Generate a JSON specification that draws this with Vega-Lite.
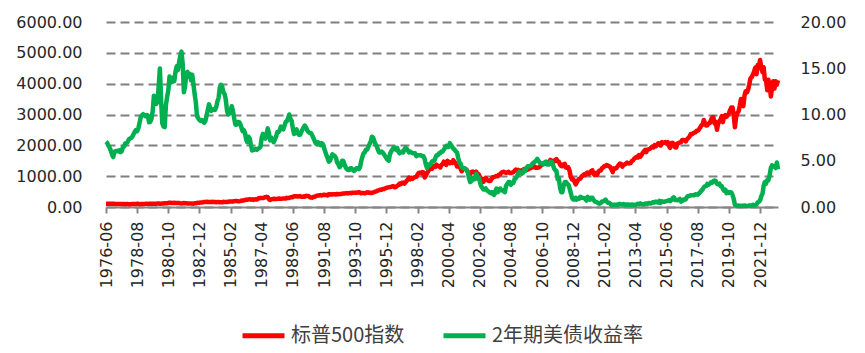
{
"$schema":"https://vega.github.io/schema/vega-lite/v6.json",
"width":672,"height":185,
"autosize":{"type":"none"},
"padding":{"left":106,"top":22,"right":87,"bottom":146},
"background":"white",
"config":{"view":{"stroke":null},"font":"DejaVu Sans"},
"data":{"values":[
{"d":"1976-06","s":104.28,"y":7.06},{"d":"1976-07","s":103.44,"y":6.94},{"d":"1976-08","s":102.91,"y":6.63},{"d":"1976-09","s":105.24,"y":6.42},{"d":"1976-10","s":102.9,"y":6.1},{"d":"1976-11","s":102.1,"y":5.65},{"d":"1976-12","s":107.46,"y":5.4},
{"d":"1977-01","s":102.03,"y":5.96},{"d":"1977-02","s":99.82,"y":6.06},{"d":"1977-03","s":98.42,"y":6.06},{"d":"1977-04","s":98.44,"y":6.03},{"d":"1977-05","s":96.12,"y":6.12},{"d":"1977-06","s":100.48,"y":5.93},{"d":"1977-07","s":98.85,"y":6.0},{"d":"1977-08","s":96.77,"y":6.41},{"d":"1977-09","s":96.53,"y":6.53},{"d":"1977-10","s":92.34,"y":6.87},{"d":"1977-11","s":94.83,"y":6.9},{"d":"1977-12","s":95.1,"y":7.02},
{"d":"1978-01","s":89.25,"y":7.31},{"d":"1978-02","s":87.04,"y":7.4},{"d":"1978-03","s":89.21,"y":7.46},{"d":"1978-04","s":96.83,"y":7.6},{"d":"1978-05","s":97.24,"y":7.86},{"d":"1978-06","s":95.53,"y":8.12},{"d":"1978-07","s":100.68,"y":8.32},{"d":"1978-08","s":103.29,"y":8.19},{"d":"1978-09","s":102.54,"y":8.51},{"d":"1978-10","s":93.15,"y":9.08},{"d":"1978-11","s":94.7,"y":9.73},{"d":"1978-12","s":96.11,"y":9.91},
{"d":"1979-01","s":99.93,"y":10.03},{"d":"1979-02","s":96.28,"y":9.88},{"d":"1979-03","s":101.59,"y":9.82},{"d":"1979-04","s":101.76,"y":9.95},{"d":"1979-05","s":99.08,"y":9.87},{"d":"1979-06","s":102.91,"y":9.16},{"d":"1979-07","s":103.81,"y":9.21},{"d":"1979-08","s":109.32,"y":9.55},{"d":"1979-09","s":109.32,"y":10.37},{"d":"1979-10","s":101.82,"y":12.03},{"d":"1979-11","s":106.16,"y":11.85},{"d":"1979-12","s":107.94,"y":11.14},
{"d":"1980-01","s":114.16,"y":11.38},{"d":"1980-02","s":113.66,"y":13.18},{"d":"1980-03","s":102.09,"y":14.98},{"d":"1980-04","s":106.29,"y":11.56},{"d":"1980-05","s":111.24,"y":9.05},{"d":"1980-06","s":114.24,"y":8.71},{"d":"1980-07","s":121.67,"y":8.64},{"d":"1980-08","s":122.38,"y":11.0},{"d":"1980-09","s":125.46,"y":11.9},{"d":"1980-10","s":127.47,"y":12.6},{"d":"1980-11","s":140.52,"y":14.1},{"d":"1980-12","s":135.76,"y":13.9},
{"d":"1981-01","s":129.55,"y":13.5},{"d":"1981-02","s":131.27,"y":14.0},{"d":"1981-03","s":136.0,"y":13.6},{"d":"1981-04","s":132.81,"y":14.6},{"d":"1981-05","s":132.59,"y":15.2},{"d":"1981-06","s":131.21,"y":14.8},{"d":"1981-07","s":130.92,"y":15.6},{"d":"1981-08","s":122.79,"y":16.3},{"d":"1981-09","s":116.18,"y":16.8},{"d":"1981-10","s":121.89,"y":15.5},{"d":"1981-11","s":126.35,"y":12.4},{"d":"1981-12","s":122.55,"y":13.0},
{"d":"1982-01","s":120.4,"y":14.5},{"d":"1982-02","s":113.11,"y":14.6},{"d":"1982-03","s":111.96,"y":14.1},{"d":"1982-04","s":116.44,"y":14.4},{"d":"1982-05","s":111.88,"y":13.7},{"d":"1982-06","s":109.61,"y":14.3},{"d":"1982-07","s":107.09,"y":13.3},{"d":"1982-08","s":119.51,"y":12.2},{"d":"1982-09","s":120.42,"y":11.3},{"d":"1982-10","s":133.71,"y":9.8},{"d":"1982-11","s":138.54,"y":9.6},{"d":"1982-12","s":140.64,"y":9.4},
{"d":"1983-01","s":145.3,"y":9.3},{"d":"1983-02","s":148.06,"y":9.4},{"d":"1983-03","s":152.96,"y":9.3},{"d":"1983-04","s":164.42,"y":9.1},{"d":"1983-05","s":162.39,"y":9.3},{"d":"1983-06","s":168.11,"y":9.9},{"d":"1983-07","s":162.56,"y":10.5},{"d":"1983-08","s":164.4,"y":11.1},{"d":"1983-09","s":166.07,"y":10.7},{"d":"1983-10","s":163.55,"y":10.4},{"d":"1983-11","s":166.4,"y":10.5},{"d":"1983-12","s":164.93,"y":10.6},
{"d":"1984-01","s":163.41,"y":10.5},{"d":"1984-02","s":157.06,"y":10.8},{"d":"1984-03","s":159.18,"y":11.4},{"d":"1984-04","s":160.05,"y":11.8},{"d":"1984-05","s":150.55,"y":12.9},{"d":"1984-06","s":153.18,"y":13.2},{"d":"1984-07","s":150.66,"y":13.0},{"d":"1984-08","s":166.68,"y":12.4},{"d":"1984-09","s":166.1,"y":12.2},{"d":"1984-10","s":166.09,"y":11.6},{"d":"1984-11","s":163.58,"y":10.4},{"d":"1984-12","s":167.24,"y":10.0},
{"d":"1985-01","s":179.63,"y":10.1},{"d":"1985-02","s":181.18,"y":10.4},{"d":"1985-03","s":180.66,"y":10.9},{"d":"1985-04","s":179.83,"y":10.4},{"d":"1985-05","s":189.55,"y":9.6},{"d":"1985-06","s":191.85,"y":8.9},{"d":"1985-07","s":190.92,"y":8.9},{"d":"1985-08","s":188.63,"y":9.2},{"d":"1985-09","s":182.08,"y":9.2},{"d":"1985-10","s":189.82,"y":9.0},{"d":"1985-11","s":202.17,"y":8.6},{"d":"1985-12","s":211.28,"y":8.2},
{"d":"1986-01","s":211.78,"y":8.3},{"d":"1986-02","s":226.92,"y":8.0},{"d":"1986-03","s":238.9,"y":7.3},{"d":"1986-04","s":235.52,"y":7.0},{"d":"1986-05","s":247.35,"y":7.6},{"d":"1986-06","s":250.84,"y":7.4},{"d":"1986-07","s":236.12,"y":6.7},{"d":"1986-08","s":252.93,"y":6.1},{"d":"1986-09","s":231.32,"y":6.2},{"d":"1986-10","s":243.98,"y":6.2},{"d":"1986-11","s":249.22,"y":6.3},{"d":"1986-12","s":242.17,"y":6.2},
{"d":"1987-01","s":274.08,"y":6.3},{"d":"1987-02","s":284.2,"y":6.4},{"d":"1987-03","s":291.7,"y":6.5},{"d":"1987-04","s":288.36,"y":7.5},{"d":"1987-05","s":290.1,"y":7.9},{"d":"1987-06","s":304.0,"y":7.5},{"d":"1987-07","s":318.66,"y":7.4},{"d":"1987-08","s":329.8,"y":7.8},{"d":"1987-09","s":321.83,"y":8.5},{"d":"1987-10","s":251.79,"y":8.0},{"d":"1987-11","s":230.3,"y":7.2},{"d":"1987-12","s":247.08,"y":7.5},
{"d":"1988-01","s":257.07,"y":7.3},{"d":"1988-02","s":267.82,"y":7.0},{"d":"1988-03","s":258.89,"y":7.3},{"d":"1988-04","s":261.33,"y":7.6},{"d":"1988-05","s":262.16,"y":8.1},{"d":"1988-06","s":273.5,"y":8.1},{"d":"1988-07","s":272.02,"y":8.3},{"d":"1988-08","s":261.52,"y":8.7},{"d":"1988-09","s":271.91,"y":8.5},{"d":"1988-10","s":278.97,"y":8.4},{"d":"1988-11","s":273.7,"y":8.8},{"d":"1988-12","s":277.72,"y":9.2},
{"d":"1989-01","s":297.47,"y":9.3},{"d":"1989-02","s":288.86,"y":9.6},{"d":"1989-03","s":294.87,"y":10.0},{"d":"1989-04","s":309.64,"y":9.5},{"d":"1989-05","s":320.52,"y":9.3},{"d":"1989-06","s":317.98,"y":8.5},{"d":"1989-07","s":346.08,"y":7.9},{"d":"1989-08","s":351.45,"y":8.3},{"d":"1989-09","s":349.15,"y":8.4},{"d":"1989-10","s":340.36,"y":8.0},{"d":"1989-11","s":345.99,"y":7.8},{"d":"1989-12","s":353.4,"y":7.8},
{"d":"1990-01","s":329.08,"y":8.1},{"d":"1990-02","s":331.89,"y":8.4},{"d":"1990-03","s":339.94,"y":8.6},{"d":"1990-04","s":330.8,"y":8.8},{"d":"1990-05","s":361.23,"y":8.6},{"d":"1990-06","s":358.02,"y":8.3},{"d":"1990-07","s":356.15,"y":8.1},{"d":"1990-08","s":322.56,"y":8.0},{"d":"1990-09","s":306.05,"y":8.0},{"d":"1990-10","s":304.0,"y":7.8},{"d":"1990-11","s":322.22,"y":7.5},{"d":"1990-12","s":330.22,"y":7.2},
{"d":"1991-01","s":343.93,"y":6.9},{"d":"1991-02","s":367.07,"y":6.8},{"d":"1991-03","s":375.22,"y":7.0},{"d":"1991-04","s":375.35,"y":6.8},{"d":"1991-05","s":389.83,"y":6.7},{"d":"1991-06","s":371.16,"y":6.9},{"d":"1991-07","s":387.81,"y":6.8},{"d":"1991-08","s":395.43,"y":6.4},{"d":"1991-09","s":387.86,"y":6.0},{"d":"1991-10","s":392.45,"y":5.6},{"d":"1991-11","s":375.22,"y":5.3},{"d":"1991-12","s":417.09,"y":4.9},
{"d":"1992-01","s":408.79,"y":5.0},{"d":"1992-02","s":412.7,"y":5.4},{"d":"1992-03","s":403.69,"y":5.7},{"d":"1992-04","s":414.95,"y":5.6},{"d":"1992-05","s":415.35,"y":5.5},{"d":"1992-06","s":408.14,"y":5.3},{"d":"1992-07","s":424.21,"y":4.8},{"d":"1992-08","s":414.03,"y":4.6},{"d":"1992-09","s":417.8,"y":4.3},{"d":"1992-10","s":418.68,"y":4.5},{"d":"1992-11","s":431.35,"y":5.0},{"d":"1992-12","s":435.71,"y":5.0},
{"d":"1993-01","s":438.78,"y":4.6},{"d":"1993-02","s":443.38,"y":4.3},{"d":"1993-03","s":451.67,"y":4.1},{"d":"1993-04","s":440.19,"y":4.0},{"d":"1993-05","s":450.19,"y":4.0},{"d":"1993-06","s":450.53,"y":4.2},{"d":"1993-07","s":448.13,"y":4.2},{"d":"1993-08","s":463.56,"y":4.0},{"d":"1993-09","s":458.93,"y":3.9},{"d":"1993-10","s":467.83,"y":4.0},{"d":"1993-11","s":461.79,"y":4.2},{"d":"1993-12","s":466.45,"y":4.2},
{"d":"1994-01","s":481.61,"y":4.1},{"d":"1994-02","s":467.14,"y":4.3},{"d":"1994-03","s":445.77,"y":4.9},{"d":"1994-04","s":450.91,"y":5.4},{"d":"1994-05","s":456.5,"y":5.8},{"d":"1994-06","s":444.27,"y":5.9},{"d":"1994-07","s":458.26,"y":6.2},{"d":"1994-08","s":475.49,"y":6.2},{"d":"1994-09","s":462.69,"y":6.5},{"d":"1994-10","s":472.35,"y":6.8},{"d":"1994-11","s":453.69,"y":7.1},{"d":"1994-12","s":459.27,"y":7.6},
{"d":"1995-01","s":470.42,"y":7.5},{"d":"1995-02","s":487.39,"y":7.1},{"d":"1995-03","s":500.71,"y":6.8},{"d":"1995-04","s":514.71,"y":6.6},{"d":"1995-05","s":533.4,"y":6.2},{"d":"1995-06","s":544.75,"y":5.9},{"d":"1995-07","s":562.06,"y":5.9},{"d":"1995-08","s":561.88,"y":6.0},{"d":"1995-09","s":584.41,"y":5.9},{"d":"1995-10","s":581.5,"y":5.7},{"d":"1995-11","s":605.37,"y":5.5},{"d":"1995-12","s":615.93,"y":5.3},
{"d":"1996-01","s":636.02,"y":5.1},{"d":"1996-02","s":640.43,"y":5.0},{"d":"1996-03","s":645.5,"y":5.7},{"d":"1996-04","s":654.17,"y":6.0},{"d":"1996-05","s":669.12,"y":6.2},{"d":"1996-06","s":670.63,"y":6.4},{"d":"1996-07","s":639.95,"y":6.4},{"d":"1996-08","s":651.99,"y":6.2},{"d":"1996-09","s":687.31,"y":6.4},{"d":"1996-10","s":705.27,"y":6.0},{"d":"1996-11","s":757.02,"y":5.8},{"d":"1996-12","s":740.74,"y":5.9},
{"d":"1997-01","s":786.16,"y":6.0},{"d":"1997-02","s":790.82,"y":5.9},{"d":"1997-03","s":757.12,"y":6.2},{"d":"1997-04","s":801.34,"y":6.4},{"d":"1997-05","s":848.28,"y":6.3},{"d":"1997-06","s":885.14,"y":6.1},{"d":"1997-07","s":954.29,"y":5.9},{"d":"1997-08","s":899.47,"y":6.0},{"d":"1997-09","s":947.28,"y":5.9},{"d":"1997-10","s":914.62,"y":5.8},{"d":"1997-11","s":955.4,"y":5.8},{"d":"1997-12","s":970.43,"y":5.8},
{"d":"1998-01","s":980.28,"y":5.5},{"d":"1998-02","s":1049.34,"y":5.6},{"d":"1998-03","s":1101.75,"y":5.6},{"d":"1998-04","s":1111.75,"y":5.6},{"d":"1998-05","s":1090.82,"y":5.6},{"d":"1998-06","s":1133.84,"y":5.5},{"d":"1998-07","s":1120.67,"y":5.5},{"d":"1998-08","s":957.28,"y":5.2},{"d":"1998-09","s":1017.01,"y":4.6},{"d":"1998-10","s":1098.67,"y":4.2},{"d":"1998-11","s":1163.63,"y":4.6},{"d":"1998-12","s":1229.23,"y":4.5},
{"d":"1999-01","s":1279.64,"y":4.6},{"d":"1999-02","s":1238.33,"y":4.9},{"d":"1999-03","s":1286.37,"y":5.0},{"d":"1999-04","s":1335.18,"y":5.0},{"d":"1999-05","s":1301.84,"y":5.3},{"d":"1999-06","s":1372.71,"y":5.6},{"d":"1999-07","s":1328.72,"y":5.6},{"d":"1999-08","s":1320.41,"y":5.8},{"d":"1999-09","s":1282.71,"y":5.8},{"d":"1999-10","s":1362.93,"y":6.0},{"d":"1999-11","s":1388.91,"y":6.0},{"d":"1999-12","s":1469.25,"y":6.2},
{"d":"2000-01","s":1394.46,"y":6.4},{"d":"2000-02","s":1366.42,"y":6.6},{"d":"2000-03","s":1498.58,"y":6.5},{"d":"2000-04","s":1452.43,"y":6.5},{"d":"2000-05","s":1420.6,"y":6.9},{"d":"2000-06","s":1454.6,"y":6.7},{"d":"2000-07","s":1430.83,"y":6.5},{"d":"2000-08","s":1517.68,"y":6.3},{"d":"2000-09","s":1436.51,"y":6.2},{"d":"2000-10","s":1429.4,"y":6.0},{"d":"2000-11","s":1314.95,"y":5.9},{"d":"2000-12","s":1320.28,"y":5.3},
{"d":"2001-01","s":1366.01,"y":4.8},{"d":"2001-02","s":1239.94,"y":4.7},{"d":"2001-03","s":1160.33,"y":4.3},{"d":"2001-04","s":1249.46,"y":4.2},{"d":"2001-05","s":1255.82,"y":4.2},{"d":"2001-06","s":1224.42,"y":4.1},{"d":"2001-07","s":1211.23,"y":4.0},{"d":"2001-08","s":1133.58,"y":3.8},{"d":"2001-09","s":1040.94,"y":3.1},{"d":"2001-10","s":1059.78,"y":2.7},{"d":"2001-11","s":1139.45,"y":2.8},{"d":"2001-12","s":1148.08,"y":3.1},
{"d":"2002-01","s":1130.2,"y":3.0},{"d":"2002-02","s":1106.73,"y":3.0},{"d":"2002-03","s":1147.39,"y":3.6},{"d":"2002-04","s":1076.92,"y":3.3},{"d":"2002-05","s":1067.14,"y":3.2},{"d":"2002-06","s":989.82,"y":2.8},{"d":"2002-07","s":911.62,"y":2.3},{"d":"2002-08","s":916.07,"y":2.1},{"d":"2002-09","s":815.28,"y":1.9},{"d":"2002-10","s":885.76,"y":1.9},{"d":"2002-11","s":936.31,"y":2.0},{"d":"2002-12","s":879.82,"y":1.8},
{"d":"2003-01","s":855.7,"y":1.7},{"d":"2003-02","s":841.15,"y":1.6},{"d":"2003-03","s":848.18,"y":1.5},{"d":"2003-04","s":916.92,"y":1.6},{"d":"2003-05","s":963.59,"y":1.4},{"d":"2003-06","s":974.5,"y":1.3},{"d":"2003-07","s":990.31,"y":1.7},{"d":"2003-08","s":1008.01,"y":2.0},{"d":"2003-09","s":995.97,"y":1.6},{"d":"2003-10","s":1050.71,"y":1.8},{"d":"2003-11","s":1058.2,"y":2.0},{"d":"2003-12","s":1111.92,"y":1.8},
{"d":"2004-01","s":1131.13,"y":1.8},{"d":"2004-02","s":1144.94,"y":1.7},{"d":"2004-03","s":1126.21,"y":1.6},{"d":"2004-04","s":1107.3,"y":2.3},{"d":"2004-05","s":1120.68,"y":2.5},{"d":"2004-06","s":1140.84,"y":2.7},{"d":"2004-07","s":1101.72,"y":2.7},{"d":"2004-08","s":1104.24,"y":2.4},{"d":"2004-09","s":1114.58,"y":2.6},{"d":"2004-10","s":1130.2,"y":2.6},{"d":"2004-11","s":1173.82,"y":3.0},{"d":"2004-12","s":1211.92,"y":3.1},
{"d":"2005-01","s":1181.27,"y":3.3},{"d":"2005-02","s":1203.6,"y":3.6},{"d":"2005-03","s":1180.59,"y":3.8},{"d":"2005-04","s":1156.85,"y":3.7},{"d":"2005-05","s":1191.5,"y":3.6},{"d":"2005-06","s":1191.33,"y":3.7},{"d":"2005-07","s":1234.18,"y":4.0},{"d":"2005-08","s":1220.33,"y":3.9},{"d":"2005-09","s":1228.81,"y":4.2},{"d":"2005-10","s":1207.01,"y":4.4},{"d":"2005-11","s":1249.48,"y":4.4},{"d":"2005-12","s":1248.29,"y":4.4},
{"d":"2006-01","s":1280.08,"y":4.5},{"d":"2006-02","s":1280.66,"y":4.7},{"d":"2006-03","s":1294.83,"y":4.8},{"d":"2006-04","s":1310.61,"y":4.9},{"d":"2006-05","s":1270.09,"y":5.0},{"d":"2006-06","s":1270.2,"y":5.2},{"d":"2006-07","s":1276.66,"y":5.0},{"d":"2006-08","s":1303.82,"y":4.8},{"d":"2006-09","s":1335.85,"y":4.7},{"d":"2006-10","s":1377.94,"y":4.7},{"d":"2006-11","s":1400.63,"y":4.6},{"d":"2006-12","s":1418.3,"y":4.8},
{"d":"2007-01","s":1438.24,"y":4.9},{"d":"2007-02","s":1406.82,"y":4.6},{"d":"2007-03","s":1420.86,"y":4.6},{"d":"2007-04","s":1482.37,"y":4.6},{"d":"2007-05","s":1530.62,"y":4.9},{"d":"2007-06","s":1503.35,"y":4.9},{"d":"2007-07","s":1455.27,"y":4.6},{"d":"2007-08","s":1473.99,"y":4.2},{"d":"2007-09","s":1526.75,"y":4.0},{"d":"2007-10","s":1549.38,"y":3.9},{"d":"2007-11","s":1481.14,"y":3.0},{"d":"2007-12","s":1468.36,"y":3.1},
{"d":"2008-01","s":1378.55,"y":2.1},{"d":"2008-02","s":1330.63,"y":1.6},{"d":"2008-03","s":1322.7,"y":1.6},{"d":"2008-04","s":1385.59,"y":2.3},{"d":"2008-05","s":1400.38,"y":2.7},{"d":"2008-06","s":1280.0,"y":2.7},{"d":"2008-07","s":1267.38,"y":2.5},{"d":"2008-08","s":1282.83,"y":2.4},{"d":"2008-09","s":1166.36,"y":2.0},{"d":"2008-10","s":968.75,"y":1.5},{"d":"2008-11","s":896.24,"y":1.0},{"d":"2008-12","s":903.25,"y":0.8},
{"d":"2009-01","s":825.88,"y":0.8},{"d":"2009-02","s":735.09,"y":1.0},{"d":"2009-03","s":797.87,"y":0.8},{"d":"2009-04","s":872.81,"y":0.9},{"d":"2009-05","s":919.14,"y":0.9},{"d":"2009-06","s":919.32,"y":1.1},{"d":"2009-07","s":987.48,"y":1.0},{"d":"2009-08","s":1020.62,"y":1.0},{"d":"2009-09","s":1057.08,"y":0.95},{"d":"2009-10","s":1036.19,"y":0.9},{"d":"2009-11","s":1095.63,"y":0.7},{"d":"2009-12","s":1115.1,"y":1.1},
{"d":"2010-01","s":1073.87,"y":0.9},{"d":"2010-02","s":1104.49,"y":0.8},{"d":"2010-03","s":1169.43,"y":1.0},{"d":"2010-04","s":1186.69,"y":1.0},{"d":"2010-05","s":1089.41,"y":0.8},{"d":"2010-06","s":1030.71,"y":0.6},{"d":"2010-07","s":1101.6,"y":0.55},{"d":"2010-08","s":1049.33,"y":0.5},{"d":"2010-09","s":1141.2,"y":0.4},{"d":"2010-10","s":1183.26,"y":0.35},{"d":"2010-11","s":1180.55,"y":0.45},{"d":"2010-12","s":1257.64,"y":0.6},
{"d":"2011-01","s":1286.12,"y":0.6},{"d":"2011-02","s":1327.22,"y":0.7},{"d":"2011-03","s":1325.83,"y":0.8},{"d":"2011-04","s":1363.61,"y":0.6},{"d":"2011-05","s":1345.2,"y":0.45},{"d":"2011-06","s":1320.64,"y":0.45},{"d":"2011-07","s":1292.28,"y":0.35},{"d":"2011-08","s":1218.89,"y":0.2},{"d":"2011-09","s":1131.42,"y":0.25},{"d":"2011-10","s":1253.3,"y":0.25},{"d":"2011-11","s":1246.96,"y":0.25},{"d":"2011-12","s":1257.6,"y":0.24},
{"d":"2012-01","s":1312.41,"y":0.22},{"d":"2012-02","s":1365.68,"y":0.3},{"d":"2012-03","s":1408.47,"y":0.33},{"d":"2012-04","s":1397.91,"y":0.27},{"d":"2012-05","s":1310.33,"y":0.27},{"d":"2012-06","s":1362.16,"y":0.33},{"d":"2012-07","s":1379.32,"y":0.23},{"d":"2012-08","s":1406.58,"y":0.27},{"d":"2012-09","s":1440.67,"y":0.23},{"d":"2012-10","s":1412.16,"y":0.28},{"d":"2012-11","s":1416.18,"y":0.25},{"d":"2012-12","s":1426.19,"y":0.25},
{"d":"2013-01","s":1498.11,"y":0.26},{"d":"2013-02","s":1514.68,"y":0.25},{"d":"2013-03","s":1569.19,"y":0.24},{"d":"2013-04","s":1597.57,"y":0.21},{"d":"2013-05","s":1630.74,"y":0.29},{"d":"2013-06","s":1606.28,"y":0.36},{"d":"2013-07","s":1685.73,"y":0.3},{"d":"2013-08","s":1632.97,"y":0.39},{"d":"2013-09","s":1681.55,"y":0.32},{"d":"2013-10","s":1756.54,"y":0.31},{"d":"2013-11","s":1805.81,"y":0.28},{"d":"2013-12","s":1848.36,"y":0.38},
{"d":"2014-01","s":1782.59,"y":0.34},{"d":"2014-02","s":1859.45,"y":0.33},{"d":"2014-03","s":1872.34,"y":0.44},{"d":"2014-04","s":1883.95,"y":0.42},{"d":"2014-05","s":1923.57,"y":0.37},{"d":"2014-06","s":1960.23,"y":0.47},{"d":"2014-07","s":1930.67,"y":0.53},{"d":"2014-08","s":2003.37,"y":0.48},{"d":"2014-09","s":1972.29,"y":0.58},{"d":"2014-10","s":2018.05,"y":0.5},{"d":"2014-11","s":2067.56,"y":0.47},{"d":"2014-12","s":2058.9,"y":0.67},
{"d":"2015-01","s":1994.99,"y":0.45},{"d":"2015-02","s":2104.5,"y":0.62},{"d":"2015-03","s":2067.89,"y":0.56},{"d":"2015-04","s":2085.51,"y":0.57},{"d":"2015-05","s":2107.39,"y":0.61},{"d":"2015-06","s":2063.11,"y":0.64},{"d":"2015-07","s":2103.84,"y":0.67},{"d":"2015-08","s":1972.18,"y":0.74},{"d":"2015-09","s":1920.03,"y":0.64},{"d":"2015-10","s":2079.36,"y":0.75},{"d":"2015-11","s":2080.41,"y":0.94},{"d":"2015-12","s":2043.94,"y":1.05},
{"d":"2016-01","s":1940.24,"y":0.76},{"d":"2016-02","s":1932.23,"y":0.78},{"d":"2016-03","s":2059.74,"y":0.73},{"d":"2016-04","s":2065.3,"y":0.77},{"d":"2016-05","s":2096.95,"y":0.87},{"d":"2016-06","s":2098.86,"y":0.58},{"d":"2016-07","s":2173.6,"y":0.66},{"d":"2016-08","s":2170.95,"y":0.81},{"d":"2016-09","s":2168.27,"y":0.77},{"d":"2016-10","s":2126.15,"y":0.84},{"d":"2016-11","s":2198.81,"y":1.11},{"d":"2016-12","s":2238.83,"y":1.2},
{"d":"2017-01","s":2278.87,"y":1.19},{"d":"2017-02","s":2363.64,"y":1.26},{"d":"2017-03","s":2362.72,"y":1.27},{"d":"2017-04","s":2384.2,"y":1.26},{"d":"2017-05","s":2411.8,"y":1.28},{"d":"2017-06","s":2423.41,"y":1.38},{"d":"2017-07","s":2470.3,"y":1.36},{"d":"2017-08","s":2471.65,"y":1.33},{"d":"2017-09","s":2519.36,"y":1.47},{"d":"2017-10","s":2575.26,"y":1.6},{"d":"2017-11","s":2647.58,"y":1.78},{"d":"2017-12","s":2673.61,"y":1.89},
{"d":"2018-01","s":2823.81,"y":2.14},{"d":"2018-02","s":2713.83,"y":2.25},{"d":"2018-03","s":2640.87,"y":2.27},{"d":"2018-04","s":2648.05,"y":2.49},{"d":"2018-05","s":2705.27,"y":2.4},{"d":"2018-06","s":2718.37,"y":2.52},{"d":"2018-07","s":2816.29,"y":2.67},{"d":"2018-08","s":2901.52,"y":2.63},{"d":"2018-09","s":2913.98,"y":2.81},{"d":"2018-10","s":2711.74,"y":2.87},{"d":"2018-11","s":2760.17,"y":2.8},{"d":"2018-12","s":2506.85,"y":2.49},
{"d":"2019-01","s":2704.1,"y":2.45},{"d":"2019-02","s":2784.49,"y":2.52},{"d":"2019-03","s":2834.4,"y":2.27},{"d":"2019-04","s":2945.83,"y":2.27},{"d":"2019-05","s":2752.06,"y":1.95},{"d":"2019-06","s":2941.76,"y":1.75},{"d":"2019-07","s":2980.38,"y":1.87},{"d":"2019-08","s":2926.46,"y":1.5},{"d":"2019-09","s":2976.74,"y":1.63},{"d":"2019-10","s":3037.56,"y":1.52},{"d":"2019-11","s":3140.98,"y":1.61},{"d":"2019-12","s":3230.78,"y":1.58},
{"d":"2020-01","s":3225.52,"y":1.31},{"d":"2020-02","s":2954.22,"y":0.86},{"d":"2020-03","s":2584.59,"y":0.23},{"d":"2020-04","s":2912.43,"y":0.2},{"d":"2020-05","s":3044.31,"y":0.16},{"d":"2020-06","s":3100.29,"y":0.16},{"d":"2020-07","s":3271.12,"y":0.11},{"d":"2020-08","s":3500.31,"y":0.13},{"d":"2020-09","s":3363.0,"y":0.13},{"d":"2020-10","s":3269.96,"y":0.14},{"d":"2020-11","s":3621.63,"y":0.16},{"d":"2020-12","s":3756.07,"y":0.13},
{"d":"2021-01","s":3714.24,"y":0.11},{"d":"2021-02","s":3811.15,"y":0.13},{"d":"2021-03","s":3972.89,"y":0.16},{"d":"2021-04","s":4181.17,"y":0.16},{"d":"2021-05","s":4204.11,"y":0.14},{"d":"2021-06","s":4297.5,"y":0.25},{"d":"2021-07","s":4395.26,"y":0.19},{"d":"2021-08","s":4522.68,"y":0.2},{"d":"2021-09","s":4307.54,"y":0.28},{"d":"2021-10","s":4605.38,"y":0.5},{"d":"2021-11","s":4567.0,"y":0.57},{"d":"2021-12","s":4766.18,"y":0.73},
{"d":"2022-01","s":4515.55,"y":1.18},{"d":"2022-02","s":4373.94,"y":1.44},{"d":"2022-03","s":4530.41,"y":2.28},{"d":"2022-04","s":4131.93,"y":2.7},{"d":"2022-05","s":4132.15,"y":2.53},{"d":"2022-06","s":3785.38,"y":2.92},{"d":"2022-07","s":4130.29,"y":2.89},{"d":"2022-08","s":3955.0,"y":3.45},{"d":"2022-09","s":3585.62,"y":4.22},{"d":"2022-10","s":3871.98,"y":4.51},{"d":"2022-11","s":4080.11,"y":4.38},{"d":"2022-12","s":3839.5,"y":4.41},
{"d":"2023-01","s":4076.6,"y":4.21},{"d":"2023-02","s":3970.15,"y":4.81},{"d":"2023-03","s":4109.31,"y":4.06}
]},
"encoding":{
"x":{"field":"d","type":"temporal",
"scale":{"type":"utc","domain":[{"year":1976,"month":6,"date":1,"utc":true},{"year":2023,"month":3,"date":1,"utc":true}]},
"axis":{"title":null,"grid":false,"format":"%Y-%m","labelAngle":-90,"labelFont":"DejaVu Sans","labelFontSize":16,"labelColor":"#262626","labelPadding":8,"tickSize":6,"tickColor":"#868686","tickWidth":2,"domainColor":"#868686","domainWidth":2,"labelFlush":false,"labelOverlap":false,"labelBound":false,
"values":[{"year":1976,"month":6,"date":1,"utc":true},{"year":1978,"month":8,"date":1,"utc":true},{"year":1980,"month":10,"date":1,"utc":true},{"year":1982,"month":12,"date":1,"utc":true},{"year":1985,"month":2,"date":1,"utc":true},{"year":1987,"month":4,"date":1,"utc":true},{"year":1989,"month":6,"date":1,"utc":true},{"year":1991,"month":8,"date":1,"utc":true},{"year":1993,"month":10,"date":1,"utc":true},{"year":1995,"month":12,"date":1,"utc":true},{"year":1998,"month":2,"date":1,"utc":true},{"year":2000,"month":4,"date":1,"utc":true},{"year":2002,"month":6,"date":1,"utc":true},{"year":2004,"month":8,"date":1,"utc":true},{"year":2006,"month":10,"date":1,"utc":true},{"year":2008,"month":12,"date":1,"utc":true},{"year":2011,"month":2,"date":1,"utc":true},{"year":2013,"month":4,"date":1,"utc":true},{"year":2015,"month":6,"date":1,"utc":true},{"year":2017,"month":8,"date":1,"utc":true},{"year":2019,"month":10,"date":1,"utc":true},{"year":2021,"month":12,"date":1,"utc":true}]}}
},
"layer":[
{"mark":{"type":"line","strokeWidth":4.5,"strokeJoin":"round"},
"encoding":{
"y":{"field":"s","type":"quantitative","scale":{"domain":[0,6000],"nice":false,"zero":true},
"axis":{"title":null,"orient":"left","values":[0,1000,2000,3000,4000,5000,6000],"format":".2f","domain":false,"ticks":false,"labelPadding":24,"labelFont":"DejaVu Sans","labelFontSize":16,"labelColor":"#262626","grid":true,"gridColor":"#808080","gridDash":[9,5],"gridWidth":2}},
"color":{"datum":"标普500指数","type":"nominal",
"scale":{"domain":["标普500指数","2年期美债收益率"],"range":["#FF0000","#00B050"]},
"legend":{"title":null,"orient":"none","legendX":134,"legendY":290,"direction":"horizontal","symbolType":"stroke","symbolSize":1764,"symbolStrokeWidth":5,"labelFont":"Noto Sans CJK SC","labelFontSize":20,"labelColor":"#404040","columnPadding":28,"labelOffset":4}}}},
{"mark":{"type":"line","strokeWidth":4.5,"strokeJoin":"round"},
"encoding":{
"y":{"field":"y","type":"quantitative","scale":{"domain":[0,20],"nice":false,"zero":true},
"axis":{"title":null,"orient":"right","values":[0,5,10,15,20],"format":".2f","domain":false,"ticks":false,"grid":false,"labelPadding":22,"labelFont":"DejaVu Sans","labelFontSize":16,"labelColor":"#262626"}},
"color":{"datum":"2年期美债收益率","type":"nominal"}}}
],
"resolve":{"scale":{"y":"independent"}}
}
